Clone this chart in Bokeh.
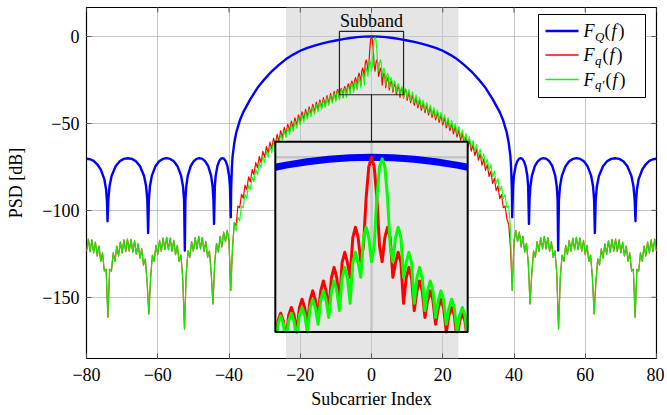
import numpy as np
from bokeh.plotting import figure
from bokeh.models import BoxAnnotation, Label, FixedTicker, CustomJSTickFormatter
from bokeh.embed import file_html
from bokeh.resources import INLINE

# ---------------- data ----------------
x_ticks = [-80, -60, -40, -20, 0, 20, 40, 60, 80]
y_ticks = [-150, -100, -50, 0]
x_label = "Subcarrier Index"
y_label = "PSD [dB]"
subband = (-24.0, 24.4)          # shaded sub-band
spy_x = (-9.0, 9.0)              # zoomed region
spy_y = (-33.5, 3.0)

# F_Q(f)  (blue)
blue_x = [-80, -79, -78, -77, -76, -75, -74.5, -74.25, -74.1,
          -73.87, -73.53, -72.96, -71.82, -70.68, -69.54, -68.4, -67.26, -66.12, -64.98, -63.84, -63.27, -62.93, -62.7,
          -62.49, -62.19, -61.67, -60.64, -59.61, -58.58, -57.55, -56.52, -55.49, -54.46, -53.43, -52.92, -52.61, -52.4,
          -52.24, -51.99, -51.58, -50.76, -49.94, -49.12, -48.3, -47.48, -46.66, -45.84, -45.02, -44.61, -44.36, -44.2,
          -43.97, -43.73, -43.26, -42.79, -42.32, -41.85, -41.38, -40.91, -40.44, -39.97, -39.74, -39.5,
          -39.4, -39.2, -39, -38.5, -38, -37, -36, -34, -32, -30, -28, -26, -24, -22, -20, -18, -16, -14, -12, -10,
          -8, -6, -4, -2, 0, 2, 4, 6, 8,
          10, 12, 14, 16, 18, 20, 22, 24, 26, 28, 30, 32, 34, 36, 37, 38, 38.5, 39, 39.2, 39.4, 39.5,
          39.74, 39.97, 40.44, 40.91, 41.38, 41.85, 42.32, 42.79, 43.26, 43.73, 43.97, 44.2,
          44.36, 44.61, 45.02, 45.84, 46.66, 47.48, 48.3, 49.12, 49.94, 50.76, 51.58, 51.99, 52.24, 52.4,
          52.61, 52.92, 53.43, 54.46, 55.49, 56.52, 57.55, 58.58, 59.61, 60.64, 61.67, 62.19, 62.49, 62.7,
          62.93, 63.27, 63.84, 64.98, 66.12, 67.26, 68.4, 69.54, 70.68, 71.82, 72.96, 73.53, 73.87, 74.1,
          74.25, 74.5, 75, 76, 77, 78, 79, 80]
blue_y = [-70.3, -70.6, -71.5, -73.5, -76.5, -82, -88, -95, -106.3,
          -94, -86.1, -80.2, -74.6, -71.8, -70.4, -70, -70.4, -71.8, -74.6, -80.2, -86.1, -94, -113,
          -94, -86.1, -80.2, -74.6, -71.8, -70.4, -70, -70.4, -71.8, -74.6, -80.2, -86.1, -94, -123.1,
          -94, -86.1, -80.2, -74.6, -71.8, -70.4, -70, -70.4, -71.8, -74.6, -80.2, -86.1, -94, -107.8,
          -86, -80, -74.6, -71.8, -70.4, -70, -70.4, -71.8, -74.6, -80.2, -86, -104,
          -88, -76, -69, -61, -55.5, -48.5, -43.5, -36, -29.5, -24.5, -20, -16.3, -13, -10.4, -8.2, -6.5, -5.2, -4.1, -3.1, -2.3,
          -1.5, -0.85, -0.35, -0.09, 0, -0.09, -0.35, -0.85, -1.5,
          -2.3, -3.1, -4.1, -5.2, -6.5, -8.2, -10.4, -13, -16.3, -20, -24.5, -29.5, -36, -43.5, -48.5, -55.5, -61, -69, -76, -88, -104,
          -86, -80.2, -74.6, -71.8, -70.4, -70, -70.4, -71.8, -74.6, -80, -86, -107.8,
          -94, -86.1, -80.2, -74.6, -71.8, -70.4, -70, -70.4, -71.8, -74.6, -80.2, -86.1, -94, -123.1,
          -94, -86.1, -80.2, -74.6, -71.8, -70.4, -70, -70.4, -71.8, -74.6, -80.2, -86.1, -94, -113,
          -94, -86.1, -80.2, -74.6, -71.8, -70.4, -70, -70.4, -71.8, -74.6, -80.2, -86.1, -94, -106.3,
          -95, -88, -82, -76.5, -73.5, -71.5, -70.6, -70.3]

# F_q(f) and F_q'(f): sampled every 0.5 (every 0.25 in the centre)
# shared side-lobe region, x = -80 ... -38.5
outer_left = [-123.5, -116.5, -123.7, -117, -124.5, -118.3, -126.2, -120.5, -129.2, -124.5,
              -134.9, -133.9, -161.5, -133.8, -134.9, -124.5, -129.2, -120.5, -126.2, -118.3,
              -124.5, -117, -123.7, -116.5, -123.5, -116.7, -124, -117.5, -125.3, -119.2,
              -127.5, -122.2, -131.5, -127.9, -140.9, -159.6, -138.6, -125.7, -129.4, -120.1,
              -125.5, -117.3, -123.5, -115.9, -122.6, -115.5, -122.6, -115.9, -123.5, -117.3,
              -125.5, -120.1, -129.4, -125.7, -138.6, -168.2, -136.2, -123.3, -127.1, -118,
              -123.6, -115.7, -122.2, -115, -122.2, -115.7, -123.6, -118, -127.1, -123.3,
              -136.2, -153.8, -130, -119, -124, -115, -121, -112.5, -118, -111.5,
              -118, -146.1, -121, -107]
# x = -38 ... -10.5
red_inner_left = [-109, -97.5, -98.5, -90.8, -93, -85.5, -88, -80.8, -83.5, -76.5,
                  -79.5, -72.5, -75.5, -69, -72.5, -66, -69.5, -63.3, -67, -60.8,
                  -64.5, -58.4, -62.3, -56.3, -60.2, -54.2, -58.2, -52.3, -56.3, -50.4,
                  -54.5, -48.6, -52.7, -46.8, -50.9, -45.1, -49.2, -43.4, -47.6, -41.9,
                  -46.1, -40.4, -44.7, -39, -43.3, -37.7, -42, -36.4, -40.8, -35.2,
                  -39.6, -34, -38.4, -32.8, -37.4, -31.6]
green_inner_left = [-112, -104, -106, -97.5, -98.5, -90.8, -93, -85.5, -88, -80.8,
                    -83.5, -76.5, -79.5, -72.5, -75.5, -69, -72.5, -66, -69.5, -63.3,
                    -67, -60.8, -64.5, -58.4, -62.3, -56.3, -60.2, -54.2, -58.2, -52.3,
                    -56.3, -50.4, -54.5, -48.6, -52.7, -46.8, -50.9, -45.1, -49.2, -43.4,
                    -47.6, -41.9, -46.1, -40.4, -44.7, -39, -43.3, -37.7, -42, -36.4,
                    -40.8, -35.2, -39.6, -34, -38.4, -32.8]
# x = -10 ... 10, step 0.25
red_center = [-36.4, -31.9, -30.4, -31.9, -35.5, -31.4, -29.9, -31.4, -35, -30.3,
              -28.8, -30.3, -33.5, -28.9, -27.2, -28.9, -32, -27.4, -25.6, -27.4,
              -30.7, -25.6, -23.7, -25.6, -29.4, -23.1, -21.1, -23.1, -28, -20.2,
              -18.2, -20.2, -23, -15.4, -13.4, -15.4, -20, -17, -7.7, -1.8,
              0,
              -1.8, -7.7, -17, -20, -15.4, -13.4, -15.4, -23, -20.2, -18.2,
              -20.2, -28, -23.1, -21.1, -23.1, -29.4, -25.6, -23.7, -25.6, -30.7,
              -27.4, -25.6, -27.4, -32, -28.9, -27.2, -28.9, -33.5, -30.3, -28.8,
              -30.3, -35, -31.4, -29.9, -31.4, -35.5, -32, -30.5, -32, -36.7]
green_center = [-37.4, -33.1, -31.6, -33.1, -36.4, -31.9, -30.4, -31.9, -35.5, -31.4,
                -29.9, -31.4, -35, -30.3, -28.8, -30.3, -33.5, -28.9, -27.2, -28.9,
                -32, -27.4, -25.6, -27.4, -30.7, -25.6, -23.7, -25.6, -29.4, -23.1,
                -21.1, -23.1, -28, -20.2, -18.2, -20.2, -23, -15.4, -13.4, -15.4,
                -20,
                -17, -7.7, -1.8, -0.3, -1.8, -7.7, -17, -20, -15.4, -13.4,
                -15.4, -23, -20.2, -18.2, -20.2, -28, -23.1, -21.1, -23.1, -29.4,
                -25.6, -23.7, -25.6, -30.7, -27.4, -25.6, -27.4, -32, -28.9, -27.2,
                -28.9, -33.5, -30.3, -28.8, -30.3, -35, -31.4, -29.9, -31.4, -35.5]
# x = 10.5 ... 39
red_inner_right = [-32, -38, -33.6, -39.5, -35.2, -41, -36.7, -42.5, -38.1, -43.8,
                   -39.4, -45.1, -40.8, -46.5, -42.2, -47.9, -43.6, -49.4, -45.1, -50.9,
                   -46.7, -52.5, -48.3, -54.2, -50.1, -56, -51.9, -57.8, -53.7, -59.7,
                   -55.7, -61.7, -57.7, -63.8, -59.9, -66, -62.2, -68.5, -64.8, -71.1,
                   -67.5, -74, -70.5, -77, -73.7, -80.5, -77.5, -84.5, -81.6, -88.7,
                   -86, -93.3, -90.9, -98.5, -97.5, -105, -108, -121]
green_inner_right = [-30.5, -36.7, -32, -38, -33.6, -39.5, -35.2, -41, -36.7, -42.5,
                     -38.1, -43.8, -39.4, -45.1, -40.8, -46.5, -42.2, -47.9, -43.6, -49.4,
                     -45.1, -50.9, -46.7, -52.5, -48.3, -54.2, -50.1, -56, -51.9, -57.8,
                     -53.7, -59.7, -55.7, -61.7, -57.7, -63.8, -59.9, -66, -62.2, -68.5,
                     -64.8, -71.1, -67.5, -74, -70.5, -77, -73.7, -80.5, -77.5, -84.5,
                     -81.6, -88.7, -86, -93.3, -90.9, -98.5, -97.5, -110]
# shared side-lobe region, x = 39.5 ... 80
outer_right = [-146.1, -118, -111.5, -118, -112.5, -121, -115, -124, -119, -130,
               -153.8, -136.2, -123.3, -127.1, -118, -123.6, -115.7, -122.2, -115, -122.2,
               -115.7, -123.6, -118, -127.1, -123.3, -136.2, -168.2, -138.6, -125.7, -129.4,
               -120.1, -125.5, -117.3, -123.5, -115.9, -122.6, -115.5, -122.6, -115.9, -123.5,
               -117.3, -125.5, -120.1, -129.4, -125.7, -138.6, -159.6, -140.9, -127.9, -131.5,
               -122.2, -127.5, -119.2, -125.3, -117.5, -124, -116.7, -123.5, -116.5, -123.7,
               -117, -124.5, -118.3, -126.2, -120.5, -129.2, -124.5, -134.9, -133.8, -161.5,
               -133.9, -134.9, -124.5, -129.2, -120.5, -126.2, -118.3, -124.5, -117, -123.7,
               -116.5, -123.5]

# ---------------- assemble series ----------------
def seg(a, b, vals):
    return np.linspace(a, b, len(vals))

red_x = np.concatenate([seg(-80, -38.5, outer_left), seg(-38, -10.5, red_inner_left),
                        seg(-10, 10, red_center), seg(10.5, 39, red_inner_right),
                        seg(39.5, 80, outer_right)])
red_y = np.concatenate([outer_left, red_inner_left, red_center, red_inner_right, outer_right]).astype(float)
green_x = np.concatenate([seg(-80, -38.5, outer_left), seg(-38, -10.5, green_inner_left),
                          seg(-10, 10, green_center), seg(10.5, 39, green_inner_right),
                          seg(39.5, 80, outer_right)])
green_y = np.concatenate([outer_left, green_inner_left, green_center, green_inner_right, outer_right]).astype(float)
bx = np.array(blue_x, dtype=float)
by = np.array(blue_y, dtype=float)

# ---------------- layout geometry ----------------
FONT = "Liberation Serif"
FRAME_W, FRAME_H = 570, 351
BORDER_L, BORDER_T = 86, 7
PX_PER_DB = 1.7385
PX_PER_X = FRAME_W / 160.0
ZERO_DB_PY = 36.0
Y_TOP = (ZERO_DB_PY - BORDER_T) / PX_PER_DB
Y_BOT = Y_TOP - FRAME_H / PX_PER_DB


def px_x(px):
    return -80 + (px - BORDER_L) / PX_PER_X


def px_y(py):
    return Y_TOP - (py - BORDER_T) / PX_PER_DB


p = figure(frame_width=FRAME_W, frame_height=FRAME_H,
           x_range=(-80, 80), y_range=(Y_BOT, Y_TOP),
           output_backend="svg", toolbar_location=None,
           min_border_left=BORDER_L, min_border_right=8, min_border_top=BORDER_T, min_border_bottom=0,
           background_fill_color="white", border_fill_color="white")

p.outline_line_color = "black"
p.outline_line_width = 1.2

minus_fmt = CustomJSTickFormatter(code="return tick < 0 ? '\\u2212' + Math.abs(tick) : String(tick);")
p.xaxis.ticker = FixedTicker(ticks=x_ticks)
p.yaxis.ticker = FixedTicker(ticks=y_ticks)
p.xaxis.formatter = minus_fmt
p.yaxis.formatter = minus_fmt
for ax in (p.xaxis[0], p.yaxis[0]):
    ax.axis_line_color = None
    ax.major_tick_in = 5
    ax.major_tick_out = 0
    ax.minor_tick_in = 0
    ax.minor_tick_out = 0
    ax.major_tick_line_color = "#555555"
    ax.major_label_text_font = FONT
    ax.major_label_text_font_size = "18px"
    ax.major_label_text_color = "black"
    ax.axis_label_text_font = FONT
    ax.axis_label_text_font_size = "18px"
    ax.axis_label_text_font_style = "normal"
    ax.axis_label_text_color = "black"
p.xaxis.axis_label = x_label
p.yaxis.axis_label = y_label
p.xaxis.major_label_standoff = 9
p.xaxis.axis_label_standoff = 5
p.yaxis.major_label_standoff = 7
p.yaxis.axis_label_standoff = 13
p.grid.grid_line_color = "#c6c6c6"
p.grid.grid_line_width = 1

# shaded sub-band
p.add_layout(BoxAnnotation(left=subband[0], right=subband[1], fill_color="#e5e5e5", fill_alpha=1.0,
                           line_color=None, level="image"))

# main curves
p.line(bx, by, line_color="#0000ff", line_width=2.4, line_join="round")
p.line(red_x, red_y, line_color="#ff0000", line_width=1.2, line_join="round")
p.line(green_x, green_y, line_color="#00ff00", line_width=1.2, line_alpha=0.9, line_join="round")

# mirrored tick marks on the top and right frame edges
TICK_LEN = 5
p.segment(x0=x_ticks, x1=x_ticks, y0=[Y_TOP] * len(x_ticks), y1=[Y_TOP - TICK_LEN / PX_PER_DB] * len(x_ticks),
          line_color="#555555", line_width=1)
p.segment(x0=[80] * len(y_ticks), x1=[80 - TICK_LEN / PX_PER_X] * len(y_ticks), y0=y_ticks, y1=y_ticks,
          line_color="#555555", line_width=1)

# ---------------- magnified inset ----------------
MAG = 3.0
INSET_TOP = -60.5
SPY_CX = 0.5 * (spy_x[0] + spy_x[1])


def to_inset(x, y):
    return MAG * (np.asarray(x) - SPY_CX), INSET_TOP + MAG * (np.asarray(y) - spy_y[1])


def clip_polyline(xs, ys, x0, x1, y0, y1):
    ox, oy = [], []
    for i in range(len(xs) - 1):
        ax_, ay_, bx_, by_ = xs[i], ys[i], xs[i + 1], ys[i + 1]
        dx, dy = bx_ - ax_, by_ - ay_
        t0, t1 = 0.0, 1.0
        ok = True
        for pp, qq in ((-dx, ax_ - x0), (dx, x1 - ax_), (-dy, ay_ - y0), (dy, y1 - ay_)):
            if pp == 0:
                if qq < 0:
                    ok = False
                    break
            else:
                r = qq / pp
                if pp < 0:
                    if r > t1:
                        ok = False
                        break
                    t0 = max(t0, r)
                else:
                    if r < t0:
                        ok = False
                        break
                    t1 = min(t1, r)
        if not ok:
            continue
        sx, sy = ax_ + t0 * dx, ay_ + t0 * dy
        ex, ey = ax_ + t1 * dx, ay_ + t1 * dy
        if ox and not np.isnan(ox[-1]) and (abs(ox[-1] - sx) > 1e-9 or abs(oy[-1] - sy) > 1e-9):
            ox.append(np.nan)
            oy.append(np.nan)
        if not ox or np.isnan(ox[-1]):
            ox.append(sx)
            oy.append(sy)
        ox.append(ex)
        oy.append(ey)
    return np.array(ox), np.array(oy)


il, it = to_inset(spy_x[0], spy_y[1])
ir, ib = to_inset(spy_x[1], spy_y[0])
p.quad(left=[il], right=[ir], top=[it], bottom=[ib], fill_color="#e5e5e5", line_color=None)
for t in x_ticks:
    if spy_x[0] < t < spy_x[1]:
        gx, _ = to_inset(t, 0)
        p.line([gx, gx], [ib, it], line_color="#c6c6c6", line_width=2.5)
for t in y_ticks:
    if spy_y[0] < t < spy_y[1]:
        _, gy = to_inset(0, t)
        p.line([il, ir], [gy, gy], line_color="#c6c6c6", line_width=2.5)

for xs, ys, col, lw in ((bx, by, "#0000ff", 7.0), (red_x, red_y, "#ff0000", 3.0), (green_x, green_y, "#00ff00", 3.0)):
    cx, cy = clip_polyline(xs, ys, spy_x[0], spy_x[1], spy_y[0], spy_y[1])
    mx, my = to_inset(cx, cy)
    p.line(mx, my, line_color=col, line_width=lw, line_join="round")

p.quad(left=[il], right=[ir], top=[it], bottom=[ib], fill_color=None, line_color="black", line_width=2)
p.quad(left=[spy_x[0]], right=[spy_x[1]], top=[spy_y[1]], bottom=[spy_y[0]], fill_color=None,
       line_color="#222222", line_width=1.2)
p.line([SPY_CX, SPY_CX], [spy_y[0], it], line_color="#222222", line_width=1.2)

p.add_layout(Label(x=SPY_CX, y=spy_y[1], y_offset=0, text="Subband", text_align="center",
                   text_baseline="bottom", text_font=FONT, text_font_size="18px", text_color="black"))

# ---------------- legend ----------------
p.quad(left=[px_x(538)], right=[px_x(645)], top=[px_y(14)], bottom=[px_y(97)],
       fill_color="white", line_color="black", line_width=1)
legend_rows = [
    (px_y(30.5), "#0000ff", 2.4, "Q", 21),
    (px_y(54.5), "#ff0000", 1.3, "q", 19),
    (px_y(79.0), "#00ff00", 1.3, "q\u2032", 22),
]
lx = px_x(583)
for ry, col, lw, sub, paren in legend_rows:
    p.line([px_x(545), px_x(578)], [ry, ry], line_color=col, line_width=lw)
    common = dict(x=lx, y=ry, text_baseline="middle", text_font=FONT, text_color="black")
    p.add_layout(Label(text="F", text_font_style="italic", text_font_size="18px", x_offset=0, **common))
    p.add_layout(Label(text=sub, text_font_style="italic", text_font_size="13px", x_offset=11.5, y_offset=-5, **common))
    p.add_layout(Label(text="(", text_font_size="18px", x_offset=paren, **common))
    p.add_layout(Label(text="f", text_font_style="italic", text_font_size="18px", x_offset=paren + 7, **common))
    p.add_layout(Label(text=")", text_font_size="18px", x_offset=paren + 14, **common))

open("out.html", "w").write(file_html(p, INLINE))
